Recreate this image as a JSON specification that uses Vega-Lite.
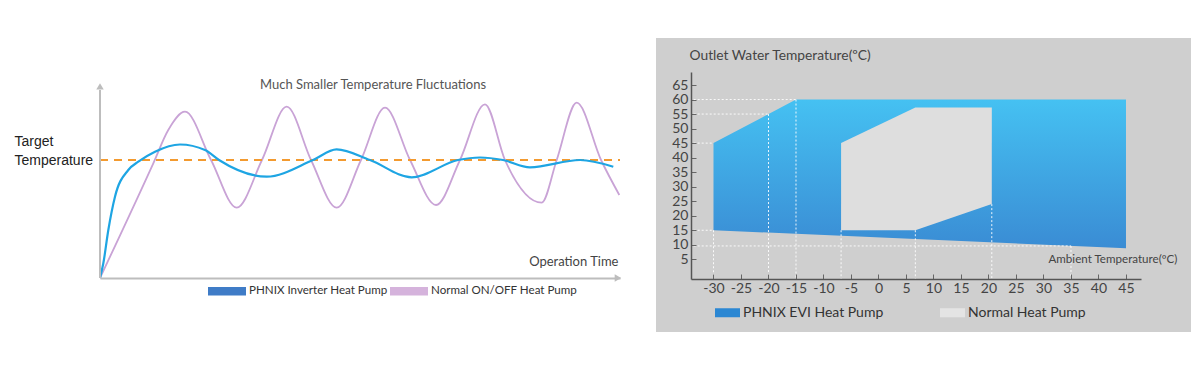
{
  "$schema": "https://vega.github.io/schema/vega-lite/v6.json",
  "background": "white",
  "padding": {"left": 14, "top": 38, "right": 0, "bottom": 0},
  "autosize": {"type": "pad"},
  "spacing": 33,
  "config": {"view": {"stroke": null}, "axis": {"grid": false, "labelOverlap": false}},
  "resolve": {
    "scale": {"fill": "independent", "x": "independent", "y": "independent"},
    "legend": {"fill": "independent"}
  },
  "datasets": {
    "inverter": [
      {"t": 0, "v": 0}, {"t": 0.64, "v": 7.35}, {"t": 1.6, "v": 24}, {"t": 2.88, "v": 40.65},
      {"t": 5.44, "v": 54}, {"t": 7.37, "v": 58.15}, {"t": 10.58, "v": 63.15}, {"t": 15.38, "v": 66.75},
      {"t": 20.19, "v": 64}, {"t": 22.88, "v": 59}, {"t": 32.06, "v": 50.65}, {"t": 40.96, "v": 59},
      {"t": 45.5, "v": 64.35}, {"t": 51.92, "v": 59}, {"t": 59.94, "v": 50.35}, {"t": 68.85, "v": 59},
      {"t": 73.08, "v": 60.25}, {"t": 77.5, "v": 59}, {"t": 82.69, "v": 55.35}, {"t": 92.31, "v": 59},
      {"t": 98.71, "v": 55.65}
    ],
    "onoff": [
      {"t": 0, "v": 0}, {"t": 10.25, "v": 57.35}, {"t": 13.13, "v": 74}, {"t": 16.35, "v": 83.15},
      {"t": 21.35, "v": 59}, {"t": 26.29, "v": 35.15}, {"t": 31.15, "v": 59}, {"t": 35.9, "v": 85.65},
      {"t": 40.58, "v": 59}, {"t": 45.52, "v": 35.15}, {"t": 50.19, "v": 59}, {"t": 54.81, "v": 85.15},
      {"t": 59.62, "v": 59}, {"t": 64.62, "v": 36.5}, {"t": 69.23, "v": 59}, {"t": 74.04, "v": 86.85},
      {"t": 77.88, "v": 59}, {"t": 84.94, "v": 37.65}, {"t": 87.83, "v": 59}, {"t": 91.67, "v": 87.65},
      {"t": 96.35, "v": 59}, {"t": 99.87, "v": 41.5}
    ],
    "series": [
      {"series": "PHNIX Inverter Heat Pump"},
      {"series": "Normal ON/OFF Heat Pump"}
    ],
    "evi": [
      {"x": -30, "y": 45, "y2": 15},
      {"x": -15, "y": 60, "y2": 13.8},
      {"x": 45, "y": 60, "y2": 8.8}
    ],
    "normal": [
      {"x": -6.8, "y": 45, "y2": 15},
      {"x": 6.7, "y": 57.3, "y2": 15},
      {"x": 20.6, "y": 57.3, "y2": 24}
    ],
    "guides": [
      {"x": -33.6, "x2": -15, "y": 60, "y2": 60},
      {"x": -33.6, "x2": -20, "y": 55, "y2": 55},
      {"x": -33.6, "x2": -30, "y": 45, "y2": 45},
      {"x": -33.6, "x2": -30, "y": 15, "y2": 15},
      {"x": -33.6, "x2": 35, "y": 9.6, "y2": 9.6},
      {"x": -30, "x2": -30, "y": 15, "y2": -1.78},
      {"x": -20, "x2": -20, "y": 55, "y2": -1.78},
      {"x": -15, "x2": -15, "y": 60, "y2": -1.78},
      {"x": -6.8, "x2": -6.8, "y": 15, "y2": -1.78},
      {"x": 6.7, "x2": 6.7, "y": 15, "y2": -1.78},
      {"x": 20.6, "x2": 20.6, "y": 24, "y2": -1.78},
      {"x": 35, "x2": 35, "y": 9.6, "y2": -1.78}
    ],
    "pumps": [
      {"pump": "PHNIX EVI Heat Pump"},
      {"pump": "Normal Heat Pump"}
    ]
  },
  "hconcat": [
    {
      "width": 520,
      "height": 206,
      "layer": [
        {
          "data": {"name": "onoff"},
          "mark": {"type": "line", "color": "#c9a3d6", "strokeWidth": 1.8, "interpolate": "monotone"},
          "encoding": {
            "x": {
              "field": "t", "type": "quantitative",
              "scale": {"domain": [0, 100], "nice": false, "zero": false},
              "axis": {
                "domain": true, "domainColor": "#bdbdbd", "domainWidth": 2,
                "ticks": false, "labels": false, "grid": false,
                "title": "Operation Time", "titleX": 518, "titleY": -17,
                "titleAlign": "right", "titleBaseline": "middle",
                "titleFont": "Lato", "titleFontSize": 13, "titleFontWeight": "normal", "titleColor": "#444444"
              }
            },
            "y": {
              "field": "v", "type": "quantitative",
              "scale": {"domain": [0, 103], "nice": false, "zero": false},
              "axis": {
                "domain": false, "ticks": false, "grid": false, "values": [59],
                "labelExpr": "['Target', 'Temperature']",
                "labelAlign": "left", "labelPadding": 86,
                "labelFont": "Liberation Sans", "labelFontSize": 14, "labelColor": "#222222",
                "labelLineHeight": 18.5, "labelBaseline": "middle", "labelOffset": -18.3,
                "title": null
              }
            }
          }
        },
        {
          "data": {"values": [{"label": "Much Smaller Temperature Fluctuations"}]},
          "mark": {"type": "text", "align": "left", "baseline": "middle", "font": "Lato", "fontSize": 13, "color": "#555555"},
          "encoding": {
            "x": {"datum": 30.77, "type": "quantitative"},
            "y": {"datum": 96.3, "type": "quantitative"},
            "text": {"field": "label"}
          }
        },
        {
          "data": {"values": [{}]},
          "mark": {"type": "rule", "color": "#f39a2f", "strokeWidth": 2, "strokeDash": [8, 6]},
          "encoding": {
            "x": {"datum": 0, "type": "quantitative"},
            "x2": {"datum": 100},
            "y": {"datum": 59, "type": "quantitative"}
          }
        },
        {
          "data": {"name": "inverter"},
          "mark": {"type": "line", "color": "#1ea5e3", "strokeWidth": 2.2, "interpolate": "monotone"},
          "encoding": {
            "x": {"field": "t", "type": "quantitative"},
            "y": {"field": "v", "type": "quantitative"}
          }
        },
        {
          "data": {"values": [{}]},
          "mark": {"type": "rule", "color": "#bdbdbd", "strokeWidth": 2},
          "encoding": {
            "x": {"datum": 0, "type": "quantitative"},
            "y": {"datum": 0, "type": "quantitative"},
            "y2": {"datum": 94}
          }
        },
        {
          "data": {"values": [{}]},
          "mark": {"type": "point", "shape": "triangle-up", "filled": true, "color": "#bdbdbd", "size": 55, "opacity": 1},
          "encoding": {
            "x": {"datum": 0, "type": "quantitative"},
            "y": {"datum": 95.8, "type": "quantitative"}
          }
        },
        {
          "data": {"values": [{}]},
          "mark": {"type": "point", "shape": "triangle-right", "filled": true, "color": "#bdbdbd", "size": 55, "opacity": 1},
          "encoding": {
            "x": {"datum": 99.6, "type": "quantitative"},
            "y": {"datum": 0, "type": "quantitative"}
          }
        },
        {
          "data": {"name": "series"},
          "mark": {"type": "square", "opacity": 0},
          "encoding": {
            "x": {"datum": 50, "type": "quantitative"},
            "y": {"datum": 50, "type": "quantitative"},
            "fill": {
              "field": "series", "type": "nominal",
              "scale": {"domain": ["PHNIX Inverter Heat Pump", "Normal ON/OFF Heat Pump"], "range": ["#3f7cc7", "#d5b3dc"]},
              "legend": {
                "orient": "none", "legendX": 108, "legendY": 200, "direction": "horizontal",
                "title": null, "symbolType": "M-1,-0.22H1V0.22H-1Z", "symbolSize": 1444,
                "symbolStrokeWidth": 0, "symbolOpacity": 1,
                "labelFont": "Lato", "labelFontSize": 11.6, "labelColor": "#333333", "labelOffset": 3,
                "columnPadding": 2, "padding": 0, "labelLimit": 0,
                "encode": {"symbols": {"update": {"opacity": {"value": 1}, "fillOpacity": {"value": 1}}}}
              }
            }
          }
        }
      ]
    },
    {
      "width": 450,
      "height": 207,
      "layer": [
        {
          "data": {"values": [{}]},
          "mark": {"type": "rect", "color": "#cfcfcf"},
          "encoding": {
            "x": {"datum": -40.45, "type": "quantitative"},
            "x2": {"datum": 56.82},
            "y": {"datum": 81.18, "type": "quantitative"},
            "y2": {"datum": -20.02}
          }
        },
        {
          "data": {"name": "evi"},
          "mark": {
            "type": "area",
            "fill": {
              "gradient": "linear", "x1": 0, "y1": 0, "x2": 0, "y2": 1,
              "stops": [{"offset": 0, "color": "#45c1f2"}, {"offset": 1, "color": "#3a8cd4"}]
            }
          },
          "encoding": {
            "x": {
              "field": "x", "type": "quantitative",
              "scale": {"domain": [-34.09, 47.73], "nice": false, "zero": false},
              "axis": {
                "values": [-30, -25, -20, -15, -10, -5, 0, 5, 10, 15, 20, 25, 30, 35, 40, 45],
                "tickCount": 100,
                "labelExpr": "'' + datum.value", "labelOverlap": false, "labelSeparation": 0,
                "domain": true, "domainColor": "#555555", "domainWidth": 1.5,
                "ticks": true, "tickSize": -5, "tickColor": "#666666", "tickWidth": 1,
                "labelPadding": 7, "labelFont": "Lato", "labelFontSize": 14, "labelColor": "#444444",
                "grid": false, "zindex": 1,
                "title": "Ambient Temperature(ºC)", "titleX": 357, "titleY": -20,
                "titleAlign": "left", "titleBaseline": "middle",
                "titleFont": "Lato", "titleFontSize": 11.6, "titleFontWeight": "normal", "titleColor": "#444444"
              }
            },
            "y": {
              "field": "y", "type": "quantitative",
              "scale": {"domain": [-1.78, 69.48], "nice": false, "zero": false},
              "axis": {
                "values": [5, 10, 15, 20, 25, 30, 35, 40, 45, 50, 55, 60, 65],
                "tickCount": 100,
                "labelExpr": "'' + datum.value", "labelOverlap": false, "labelSeparation": 0,
                "domain": true, "domainColor": "#555555", "domainWidth": 1.5,
                "ticks": true, "tickSize": -5, "tickColor": "#666666", "tickWidth": 1,
                "labelPadding": 8, "labelFont": "Lato", "labelFontSize": 14, "labelColor": "#444444",
                "grid": false, "zindex": 1,
                "title": "Outlet Water Temperature(ºC)", "titleAngle": 0, "titleX": -2, "titleY": -17,
                "titleAlign": "left", "titleBaseline": "middle",
                "titleFont": "Lato", "titleFontSize": 13.8, "titleFontWeight": "normal", "titleColor": "#444444"
              }
            },
            "y2": {"field": "y2"}
          }
        },
        {
          "data": {"name": "normal"},
          "mark": {"type": "area", "color": "#dedede"},
          "encoding": {
            "x": {"field": "x", "type": "quantitative"},
            "y": {"field": "y", "type": "quantitative"},
            "y2": {"field": "y2"}
          }
        },
        {
          "data": {"name": "guides"},
          "mark": {"type": "rule", "color": "#ffffff", "strokeWidth": 1, "strokeDash": [2, 2], "opacity": 0.9},
          "encoding": {
            "x": {"field": "x", "type": "quantitative"},
            "x2": {"field": "x2"},
            "y": {"field": "y", "type": "quantitative"},
            "y2": {"field": "y2"}
          }
        },
        {
          "data": {"name": "pumps"},
          "mark": {"type": "square", "opacity": 0},
          "encoding": {
            "x": {"datum": 0, "type": "quantitative"},
            "y": {"datum": 30, "type": "quantitative"},
            "fill": {
              "field": "pump", "type": "nominal",
              "scale": {"domain": ["PHNIX EVI Heat Pump", "Normal Heat Pump"], "range": ["#2b87d3", "#e4e4e4"]},
              "legend": {
                "orient": "none", "legendX": 24, "legendY": 228, "direction": "horizontal",
                "title": null, "symbolType": "M-1,-0.36H1V0.36H-1Z", "symbolSize": 625,
                "symbolStrokeWidth": 0, "symbolOpacity": 1,
                "labelFont": "Lato", "labelFontSize": 14, "labelColor": "#333333", "labelOffset": 3,
                "columnPadding": 56, "padding": 0, "labelLimit": 0,
                "encode": {"symbols": {"update": {"opacity": {"value": 1}, "fillOpacity": {"value": 1}}}}
              }
            }
          }
        }
      ]
    }
  ]
}
